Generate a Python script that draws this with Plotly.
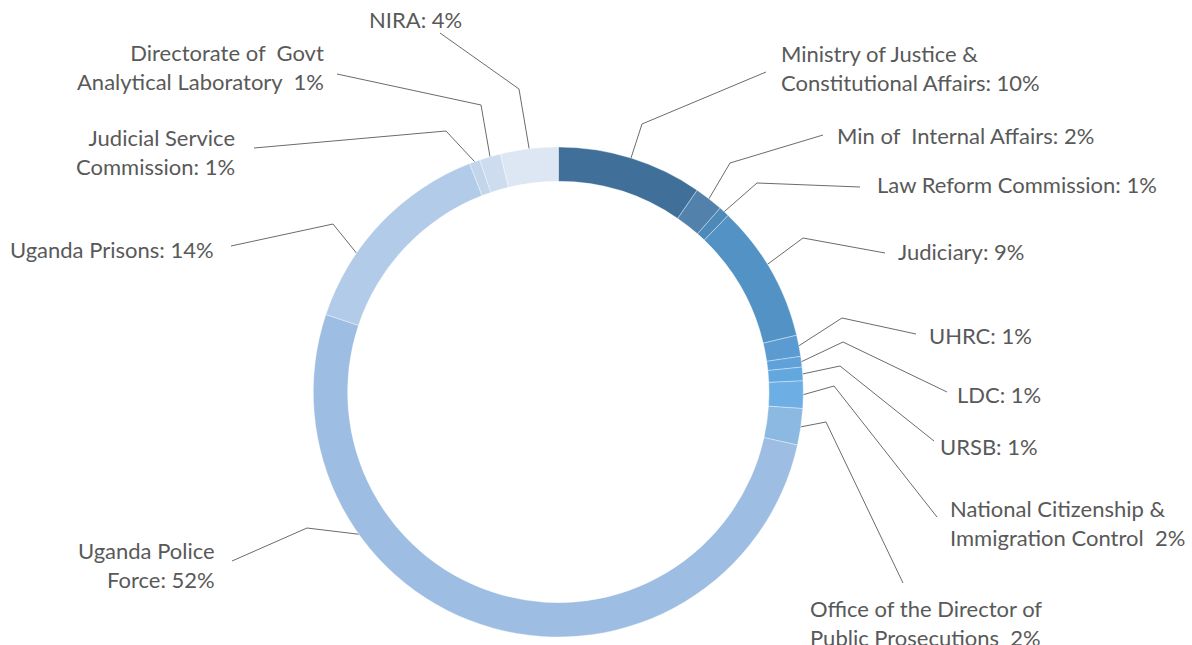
import math
import plotly.graph_objects as go

# ---- data ----
categories = [
    "Ministry of Justice & Constitutional Affairs", "Min of Internal Affairs",
    "Law Reform Commission", "Judiciary", "UHRC", "LDC", "URSB",
    "National Citizenship & Immigration Control",
    "Office of the Director of Public Prosecutions", "Uganda Police Force",
    "Uganda Prisons", "Judicial Service Commission",
    "Directorate of Govt Analytical Laboratory", "NIRA",
]
shares = [9.6, 1.9, 0.7, 9.1, 1.4, 0.7, 0.9, 1.8, 2.4, 51.7, 14.0, 0.7, 1.4, 3.8]
label_texts = [
    "Ministry of Justice &<br>Constitutional Affairs: 10%",
    "Min of  Internal Affairs: 2%",
    "Law Reform Commission: 1%",
    "Judiciary: 9%",
    "UHRC: 1%",
    "LDC: 1%",
    "URSB: 1%",
    "National Citizenship &<br>Immigration Control  2%",
    "Office of the Director of<br>Public Prosecutions  2%",
    "Uganda Police<br>Force: 52%",
    "Uganda Prisons: 14%",
    "Judicial Service<br>Commission: 1%",
    "Directorate of  Govt<br>Analytical Laboratory  1%",
    "NIRA: 4%",
]
colors = ["#40709a", "#5282ab", "#4d8aba", "#5392c5", "#5c9bd1", "#5fa1d8",
          "#63a7df", "#6daee4", "#8cb9e1", "#9dbde2", "#b1cbe8", "#c2d5eb",
          "#cedcef", "#dde7f3"]

# ---- layout (pixel positions of labels / leader lines) ----
W, H = 1192, 645
CX, CY, R = 558.3, 392.0, 245.0
HOLE = 0.86
# fraction along the slice where the leader line attaches
attach_frac = [0.5, 0.5, 0.5, 0.45, 0.5, 0.5, 0.5, 0.5, 0.5, 0.71, 0.32, 0.5, 0.5, 0.5]
elbows = [(642, 124), (730, 163), (757, 183), (803, 238), (842, 318), (843, 342),
          (840, 366), (834, 386), (826, 422), (307, 528), (333, 224), (446, 131),
          (481, 105), (519, 89)]
ends = [(766, 72), (823, 135), (860, 187), (885, 253), (916, 334), (947, 392),
        (934, 441), (937, 517), (903, 583), (232, 561), (231, 246), (254, 148),
        (337, 74), (440, 33)]
label_pos = [(779, 67.5, "left"), (835, 135, "left"), (875, 184, "left"),
             (896, 251, "left"), (927, 335, "left"), (955, 394, "left"),
             (938, 446, "left"), (948, 522.5, "left"), (808, 623, "left"),
             (217, 564.5, "right"), (216, 249, "right"), (237, 152, "right"),
             (326, 67, "right"), (415, 19, "center")]

FONT = "Lato"
TXT = "#595959"

fig = go.Figure()
fig.add_trace(go.Pie(
    labels=categories, values=shares, sort=False, direction="clockwise",
    rotation=0, hole=HOLE, textinfo="none", hoverinfo="label+percent",
    marker=dict(colors=colors, line=dict(color="rgba(255,255,255,0.6)", width=0.6)),
    domain=dict(x=[(CX - R) / W, (CX + R) / W], y=[(H - CY - R) / H, (H - CY + R) / H]),
    showlegend=False,
))

total = sum(shares)
cum = 0.0
for i, v in enumerate(shares):
    a0 = cum / total * 2 * math.pi
    a1 = (cum + v) / total * 2 * math.pi
    cum += v
    a = a0 + attach_frac[i] * (a1 - a0)
    sx, sy = CX + R * math.sin(a), CY - R * math.cos(a)
    ex, ey = elbows[i]
    tx, ty = ends[i]
    fig.add_trace(go.Scatter(x=[sx, ex, tx], y=[sy, ey, ty], mode="lines",
                             line=dict(color="#6b6b6b", width=1),
                             hoverinfo="skip", showlegend=False))
    lx, ly, anc = label_pos[i]
    fig.add_annotation(x=lx, y=ly, xref="x", yref="y", text=label_texts[i],
                       showarrow=False, xanchor=anc, yanchor="middle", align=anc,
                       font=dict(family=FONT, size=22, color=TXT))

fig.update_layout(
    width=W, height=H, margin=dict(l=0, r=0, t=0, b=0),
    paper_bgcolor="white", plot_bgcolor="rgba(0,0,0,0)",
    xaxis=dict(range=[0, W], visible=False, domain=[0, 1], fixedrange=True),
    yaxis=dict(range=[H, 0], visible=False, domain=[0, 1], fixedrange=True),
)
fig.write_html("out.html", config={"displayModeBar": False},
               post_script="document.body.style.margin='0';document.body.style.overflow='hidden';")
